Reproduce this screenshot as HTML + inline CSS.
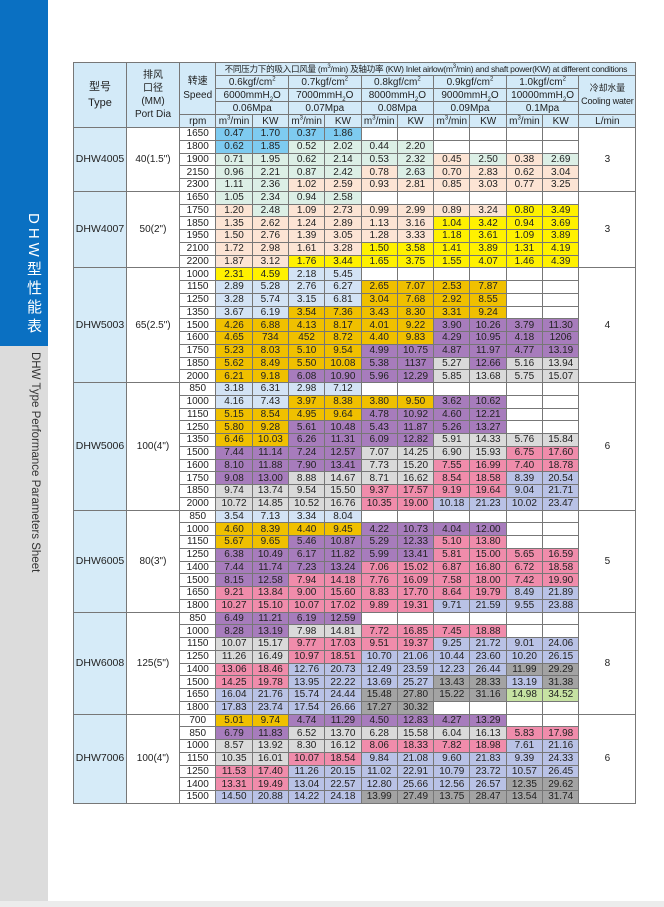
<!DOCTYPE html>
<html><head><meta charset="utf-8">
<style>
html,body{margin:0;padding:0;}
body{width:664px;height:907px;position:relative;background:#fff;overflow:hidden;font-family:"Liberation Sans","Noto Sans CJK SC",sans-serif;color:#222;}
#blue{position:absolute;left:0;top:0;width:48px;height:346px;background:#0a70c2;}
#gray{position:absolute;left:0;top:346px;width:48px;height:555px;background:#dcdcdc;}
#foot{position:absolute;left:0;top:901px;width:664px;height:6px;background:#ececec;}
#cn{position:absolute;left:22px;top:213px;writing-mode:vertical-rl;color:#fff;font-size:15px;letter-spacing:4px;line-height:22px;}
#en{position:absolute;left:27px;top:352px;writing-mode:vertical-rl;color:#333;font-size:11.5px;line-height:16px;white-space:nowrap;}
table{position:absolute;left:73px;top:62px;border-collapse:collapse;table-layout:fixed;width:563px;font-size:10px;}
td{border:1px solid #777;padding:0;text-align:center;line-height:11px;white-space:nowrap;overflow:hidden;vertical-align:middle;}
tr.h{height:13px;}
tr.r{height:12.75px;}
.hd{background:#d3eaf8;}
.t{background:#d6ebf8;font-size:10.5px;}
.b{background:#7ecbf0}.g{background:#dcefe6}.p{background:#fce4d4}.y{background:#fff100}.o{background:#f0c000}.l{background:#d3e3f5}.u{background:#a77cbc}.s{background:#dadada}.k{background:#f08cab}.v{background:#b9c2e6}.d{background:#a3a3a3}.e{background:#c6e2a2}
.ti{font-size:8.6px;letter-spacing:-0.3px;}
sup,sub{font-size:6px;line-height:0;}
</style></head><body>
<div id="blue"></div><div id="gray"></div><div id="foot"></div>
<div id="cn">DHW型性能表</div>
<div id="en">DHW Type Performance Parameters Sheet</div>
<table>
<colgroup><col style="width:53px"><col style="width:53px"><col style="width:36.4px"><col style="width:36.3px"><col style="width:36.3px"><col style="width:36.3px"><col style="width:36.3px"><col style="width:36.3px"><col style="width:36.3px"><col style="width:36.3px"><col style="width:36.3px"><col style="width:36.3px"><col style="width:36.3px"><col style="width:57px"></colgroup>
<tr class="h hd"><td rowspan="5" style="font-size:11px;line-height:16px">型号<br>Type</td><td rowspan="5" style="line-height:13px">排风<br>口径<br>(MM)<br>Port Dia</td><td rowspan="4" style="line-height:14px">转速<br>Speed</td><td colspan="11" class="ti">不同压力下的吸入口风量 (m<sup>3</sup>/min) 及轴功率 (KW) Inlet airlow(m<sup>3</sup>/min) and shaft power(KW) at different conditions</td></tr>
<tr class="h hd"><td colspan="2">0.6kgf/cm<sup>2</sup></td><td colspan="2">0.7kgf/cm<sup>2</sup></td><td colspan="2">0.8kgf/cm<sup>2</sup></td><td colspan="2">0.9kgf/cm<sup>2</sup></td><td colspan="2">1.0kgf/cm<sup>2</sup></td><td rowspan="3" style="font-size:9px;line-height:13px;letter-spacing:-0.2px">冷却水量<br>Cooling water</td></tr>
<tr class="h hd"><td colspan="2">6000mmH<sub>2</sub>O</td><td colspan="2">7000mmH<sub>2</sub>O</td><td colspan="2">8000mmH<sub>2</sub>O</td><td colspan="2">9000mmH<sub>2</sub>O</td><td colspan="2">10000mmH<sub>2</sub>O</td></tr>
<tr class="h hd"><td colspan="2">0.06Mpa</td><td colspan="2">0.07Mpa</td><td colspan="2">0.08Mpa</td><td colspan="2">0.09Mpa</td><td colspan="2">0.1Mpa</td></tr>
<tr class="h hd"><td>rpm</td><td>m<sup>3</sup>/min</td><td>KW</td><td>m<sup>3</sup>/min</td><td>KW</td><td>m<sup>3</sup>/min</td><td>KW</td><td>m<sup>3</sup>/min</td><td>KW</td><td>m<sup>3</sup>/min</td><td>KW</td><td>L/min</td></tr>

<tr class="r"><td rowspan="5" class="t">DHW4005</td><td rowspan="5">40(1.5")</td><td>1650</td><td class="b">0.47</td><td class="b">1.70</td><td class="b">0.37</td><td class="b">1.86</td><td></td><td></td><td></td><td></td><td></td><td></td><td rowspan="5">3</td></tr>
<tr class="r"><td>1800</td><td class="b">0.62</td><td class="b">1.85</td><td class="g">0.52</td><td class="g">2.02</td><td class="g">0.44</td><td class="g">2.20</td><td></td><td></td><td></td><td></td></tr>
<tr class="r"><td>1900</td><td class="g">0.71</td><td class="g">1.95</td><td class="g">0.62</td><td class="g">2.14</td><td class="g">0.53</td><td class="g">2.32</td><td class="p">0.45</td><td class="g">2.50</td><td class="p">0.38</td><td class="g">2.69</td></tr>
<tr class="r"><td>2150</td><td class="g">0.96</td><td class="g">2.21</td><td class="g">0.87</td><td class="g">2.42</td><td class="p">0.78</td><td class="g">2.63</td><td class="p">0.70</td><td class="p">2.83</td><td class="p">0.62</td><td class="p">3.04</td></tr>
<tr class="r"><td>2300</td><td class="g">1.11</td><td class="g">2.36</td><td class="p">1.02</td><td class="p">2.59</td><td class="p">0.93</td><td class="p">2.81</td><td class="p">0.85</td><td class="p">3.03</td><td class="p">0.77</td><td class="p">3.25</td></tr>

<tr class="r"><td rowspan="6" class="t">DHW4007</td><td rowspan="6">50(2")</td><td>1650</td><td class="g">1.05</td><td class="g">2.34</td><td class="g">0.94</td><td class="g">2.58</td><td></td><td></td><td></td><td></td><td></td><td></td><td rowspan="6">3</td></tr>
<tr class="r"><td>1750</td><td class="p">1.20</td><td class="g">2.48</td><td class="p">1.09</td><td class="p">2.73</td><td class="p">0.99</td><td class="p">2.99</td><td class="p">0.89</td><td class="p">3.24</td><td class="y">0.80</td><td class="y">3.49</td></tr>
<tr class="r"><td>1850</td><td class="p">1.35</td><td class="p">2.62</td><td class="p">1.24</td><td class="p">2.89</td><td class="p">1.13</td><td class="p">3.16</td><td class="y">1.04</td><td class="y">3.42</td><td class="y">0.94</td><td class="y">3.69</td></tr>
<tr class="r"><td>1950</td><td class="p">1.50</td><td class="p">2.76</td><td class="p">1.39</td><td class="p">3.05</td><td class="p">1.28</td><td class="p">3.33</td><td class="y">1.18</td><td class="y">3.61</td><td class="y">1.09</td><td class="y">3.89</td></tr>
<tr class="r"><td>2100</td><td class="p">1.72</td><td class="p">2.98</td><td class="p">1.61</td><td class="p">3.28</td><td class="y">1.50</td><td class="y">3.58</td><td class="y">1.41</td><td class="y">3.89</td><td class="y">1.31</td><td class="y">4.19</td></tr>
<tr class="r"><td>2200</td><td class="p">1.87</td><td class="p">3.12</td><td class="y">1.76</td><td class="y">3.44</td><td class="y">1.65</td><td class="y">3.75</td><td class="y">1.55</td><td class="y">4.07</td><td class="y">1.46</td><td class="y">4.39</td></tr>

<tr class="r"><td rowspan="9" class="t">DHW5003</td><td rowspan="9">65(2.5")</td><td>1000</td><td class="y">2.31</td><td class="y">4.59</td><td class="l">2.18</td><td class="l">5.45</td><td></td><td></td><td></td><td></td><td></td><td></td><td rowspan="9">4</td></tr>
<tr class="r"><td>1150</td><td class="l">2.89</td><td class="l">5.28</td><td class="l">2.76</td><td class="l">6.27</td><td class="o">2.65</td><td class="o">7.07</td><td class="o">2.53</td><td class="o">7.87</td><td></td><td></td></tr>
<tr class="r"><td>1250</td><td class="l">3.28</td><td class="l">5.74</td><td class="l">3.15</td><td class="l">6.81</td><td class="o">3.04</td><td class="o">7.68</td><td class="o">2.92</td><td class="o">8.55</td><td></td><td></td></tr>
<tr class="r"><td>1350</td><td class="l">3.67</td><td class="l">6.19</td><td class="o">3.54</td><td class="o">7.36</td><td class="o">3.43</td><td class="o">8.30</td><td class="o">3.31</td><td class="o">9.24</td><td></td><td></td></tr>
<tr class="r"><td>1500</td><td class="o">4.26</td><td class="o">6.88</td><td class="o">4.13</td><td class="o">8.17</td><td class="o">4.01</td><td class="o">9.22</td><td class="u">3.90</td><td class="u">10.26</td><td class="u">3.79</td><td class="u">11.30</td></tr>
<tr class="r"><td>1600</td><td class="o">4.65</td><td class="o">734</td><td class="o">452</td><td class="o">8.72</td><td class="o">4.40</td><td class="o">9.83</td><td class="u">4.29</td><td class="u">10.95</td><td class="u">4.18</td><td class="u">1206</td></tr>
<tr class="r"><td>1750</td><td class="o">5.23</td><td class="o">8.03</td><td class="o">5.10</td><td class="o">9.54</td><td class="u">4.99</td><td class="u">10.75</td><td class="u">4.87</td><td class="u">11.97</td><td class="u">4.77</td><td class="u">13.19</td></tr>
<tr class="r"><td>1850</td><td class="o">5.62</td><td class="o">8.49</td><td class="o">5.50</td><td class="o">10.08</td><td class="u">5.38</td><td class="u">1137</td><td class="s">5.27</td><td class="u">12.66</td><td class="s">5.16</td><td class="s">13.94</td></tr>
<tr class="r"><td>2000</td><td class="o">6.21</td><td class="o">9.18</td><td class="u">6.08</td><td class="u">10.90</td><td class="u">5.96</td><td class="u">12.29</td><td class="s">5.85</td><td class="s">13.68</td><td class="s">5.75</td><td class="s">15.07</td></tr>

<tr class="r"><td rowspan="10" class="t">DHW5006</td><td rowspan="10">100(4")</td><td>850</td><td class="l">3.18</td><td class="l">6.31</td><td class="l">2.98</td><td class="l">7.12</td><td></td><td></td><td></td><td></td><td></td><td></td><td rowspan="10">6</td></tr>
<tr class="r"><td>1000</td><td class="l">4.16</td><td class="l">7.43</td><td class="o">3.97</td><td class="o">8.38</td><td class="o">3.80</td><td class="o">9.50</td><td class="u">3.62</td><td class="u">10.62</td><td></td><td></td></tr>
<tr class="r"><td>1150</td><td class="o">5.15</td><td class="o">8.54</td><td class="o">4.95</td><td class="o">9.64</td><td class="u">4.78</td><td class="u">10.92</td><td class="u">4.60</td><td class="u">12.21</td><td></td><td></td></tr>
<tr class="r"><td>1250</td><td class="o">5.80</td><td class="o">9.28</td><td class="u">5.61</td><td class="u">10.48</td><td class="u">5.43</td><td class="u">11.87</td><td class="u">5.26</td><td class="u">13.27</td><td></td><td></td></tr>
<tr class="r"><td>1350</td><td class="o">6.46</td><td class="o">10.03</td><td class="u">6.26</td><td class="u">11.31</td><td class="u">6.09</td><td class="u">12.82</td><td class="s">5.91</td><td class="s">14.33</td><td class="s">5.76</td><td class="s">15.84</td></tr>
<tr class="r"><td>1500</td><td class="u">7.44</td><td class="u">11.14</td><td class="u">7.24</td><td class="u">12.57</td><td class="s">7.07</td><td class="s">14.25</td><td class="s">6.90</td><td class="s">15.93</td><td class="k">6.75</td><td class="k">17.60</td></tr>
<tr class="r"><td>1600</td><td class="u">8.10</td><td class="u">11.88</td><td class="u">7.90</td><td class="u">13.41</td><td class="s">7.73</td><td class="s">15.20</td><td class="k">7.55</td><td class="k">16.99</td><td class="k">7.40</td><td class="k">18.78</td></tr>
<tr class="r"><td>1750</td><td class="u">9.08</td><td class="u">13.00</td><td class="s">8.88</td><td class="s">14.67</td><td class="s">8.71</td><td class="s">16.62</td><td class="k">8.54</td><td class="k">18.58</td><td class="v">8.39</td><td class="v">20.54</td></tr>
<tr class="r"><td>1850</td><td class="s">9.74</td><td class="s">13.74</td><td class="s">9.54</td><td class="s">15.50</td><td class="k">9.37</td><td class="k">17.57</td><td class="k">9.19</td><td class="k">19.64</td><td class="v">9.04</td><td class="v">21.71</td></tr>
<tr class="r"><td>2000</td><td class="s">10.72</td><td class="s">14.85</td><td class="s">10.52</td><td class="s">16.76</td><td class="k">10.35</td><td class="k">19.00</td><td class="v">10.18</td><td class="v">21.23</td><td class="v">10.02</td><td class="v">23.47</td></tr>

<tr class="r"><td rowspan="8" class="t">DHW6005</td><td rowspan="8">80(3")</td><td>850</td><td class="l">3.54</td><td class="l">7.13</td><td class="l">3.34</td><td class="l">8.04</td><td></td><td></td><td></td><td></td><td></td><td></td><td rowspan="8">5</td></tr>
<tr class="r"><td>1000</td><td class="o">4.60</td><td class="o">8.39</td><td class="o">4.40</td><td class="o">9.45</td><td class="u">4.22</td><td class="u">10.73</td><td class="u">4.04</td><td class="u">12.00</td><td></td><td></td></tr>
<tr class="r"><td>1150</td><td class="o">5.67</td><td class="o">9.65</td><td class="u">5.46</td><td class="u">10.87</td><td class="u">5.29</td><td class="u">12.33</td><td class="k">5.10</td><td class="k">13.80</td><td></td><td></td></tr>
<tr class="r"><td>1250</td><td class="u">6.38</td><td class="u">10.49</td><td class="u">6.17</td><td class="u">11.82</td><td class="u">5.99</td><td class="u">13.41</td><td class="k">5.81</td><td class="k">15.00</td><td class="k">5.65</td><td class="k">16.59</td></tr>
<tr class="r"><td>1400</td><td class="u">7.44</td><td class="u">11.74</td><td class="u">7.23</td><td class="u">13.24</td><td class="k">7.06</td><td class="k">15.02</td><td class="k">6.87</td><td class="k">16.80</td><td class="k">6.72</td><td class="k">18.58</td></tr>
<tr class="r"><td>1500</td><td class="u">8.15</td><td class="u">12.58</td><td class="k">7.94</td><td class="k">14.18</td><td class="k">7.76</td><td class="k">16.09</td><td class="k">7.58</td><td class="k">18.00</td><td class="k">7.42</td><td class="k">19.90</td></tr>
<tr class="r"><td>1650</td><td class="k">9.21</td><td class="k">13.84</td><td class="k">9.00</td><td class="k">15.60</td><td class="k">8.83</td><td class="k">17.70</td><td class="k">8.64</td><td class="k">19.79</td><td class="v">8.49</td><td class="v">21.89</td></tr>
<tr class="r"><td>1800</td><td class="k">10.27</td><td class="k">15.10</td><td class="k">10.07</td><td class="k">17.02</td><td class="k">9.89</td><td class="k">19.31</td><td class="v">9.71</td><td class="v">21.59</td><td class="v">9.55</td><td class="v">23.88</td></tr>

<tr class="r"><td rowspan="8" class="t">DHW6008</td><td rowspan="8">125(5")</td><td>850</td><td class="u">6.49</td><td class="u">11.21</td><td class="u">6.19</td><td class="u">12.59</td><td></td><td></td><td></td><td></td><td></td><td></td><td rowspan="8">8</td></tr>
<tr class="r"><td>1000</td><td class="u">8.28</td><td class="u">13.19</td><td class="s">7.98</td><td class="s">14.81</td><td class="k">7.72</td><td class="k">16.85</td><td class="k">7.45</td><td class="k">18.88</td><td></td><td></td></tr>
<tr class="r"><td>1150</td><td class="s">10.07</td><td class="s">15.17</td><td class="k">9.77</td><td class="k">17.03</td><td class="k">9.51</td><td class="k">19.37</td><td class="v">9.25</td><td class="v">21.72</td><td class="v">9.01</td><td class="v">24.06</td></tr>
<tr class="r"><td>1250</td><td class="s">11.26</td><td class="s">16.49</td><td class="k">10.97</td><td class="k">18.51</td><td class="v">10.70</td><td class="v">21.06</td><td class="v">10.44</td><td class="v">23.60</td><td class="v">10.20</td><td class="v">26.15</td></tr>
<tr class="r"><td>1400</td><td class="k">13.06</td><td class="k">18.46</td><td class="v">12.76</td><td class="v">20.73</td><td class="v">12.49</td><td class="v">23.59</td><td class="v">12.23</td><td class="v">26.44</td><td class="d">11.99</td><td class="d">29.29</td></tr>
<tr class="r"><td>1500</td><td class="k">14.25</td><td class="k">19.78</td><td class="v">13.95</td><td class="v">22.22</td><td class="v">13.69</td><td class="v">25.27</td><td class="d">13.43</td><td class="d">28.33</td><td class="v">13.19</td><td class="d">31.38</td></tr>
<tr class="r"><td>1650</td><td class="v">16.04</td><td class="v">21.76</td><td class="v">15.74</td><td class="v">24.44</td><td class="d">15.48</td><td class="d">27.80</td><td class="d">15.22</td><td class="d">31.16</td><td class="e">14.98</td><td class="e">34.52</td></tr>
<tr class="r"><td>1800</td><td class="v">17.83</td><td class="v">23.74</td><td class="v">17.54</td><td class="v">26.66</td><td class="d">17.27</td><td class="d">30.32</td><td></td><td></td><td></td><td></td></tr>

<tr class="r"><td rowspan="7" class="t">DHW7006</td><td rowspan="7">100(4")</td><td>700</td><td class="o">5.01</td><td class="o">9.74</td><td class="u">4.74</td><td class="u">11.29</td><td class="u">4.50</td><td class="u">12.83</td><td class="u">4.27</td><td class="u">13.29</td><td></td><td></td><td rowspan="7">6</td></tr>
<tr class="r"><td>850</td><td class="u">6.79</td><td class="u">11.83</td><td class="s">6.52</td><td class="s">13.70</td><td class="s">6.28</td><td class="s">15.58</td><td class="s">6.04</td><td class="s">16.13</td><td class="k">5.83</td><td class="k">17.98</td></tr>
<tr class="r"><td>1000</td><td class="s">8.57</td><td class="s">13.92</td><td class="s">8.30</td><td class="s">16.12</td><td class="k">8.06</td><td class="k">18.33</td><td class="k">7.82</td><td class="k">18.98</td><td class="v">7.61</td><td class="v">21.16</td></tr>
<tr class="r"><td>1150</td><td class="s">10.35</td><td class="s">16.01</td><td class="k">10.07</td><td class="k">18.54</td><td class="v">9.84</td><td class="v">21.08</td><td class="v">9.60</td><td class="v">21.83</td><td class="v">9.39</td><td class="v">24.33</td></tr>
<tr class="r"><td>1250</td><td class="k">11.53</td><td class="k">17.40</td><td class="v">11.26</td><td class="v">20.15</td><td class="v">11.02</td><td class="v">22.91</td><td class="v">10.79</td><td class="v">23.72</td><td class="v">10.57</td><td class="v">26.45</td></tr>
<tr class="r"><td>1400</td><td class="k">13.31</td><td class="k">19.49</td><td class="v">13.04</td><td class="v">22.57</td><td class="v">12.80</td><td class="v">25.66</td><td class="v">12.56</td><td class="v">26.57</td><td class="d">12.35</td><td class="d">29.62</td></tr>
<tr class="r"><td>1500</td><td class="v">14.50</td><td class="v">20.88</td><td class="v">14.22</td><td class="v">24.18</td><td class="d">13.99</td><td class="d">27.49</td><td class="d">13.75</td><td class="d">28.47</td><td class="d">13.54</td><td class="d">31.74</td></tr>
</table>
</body></html>
